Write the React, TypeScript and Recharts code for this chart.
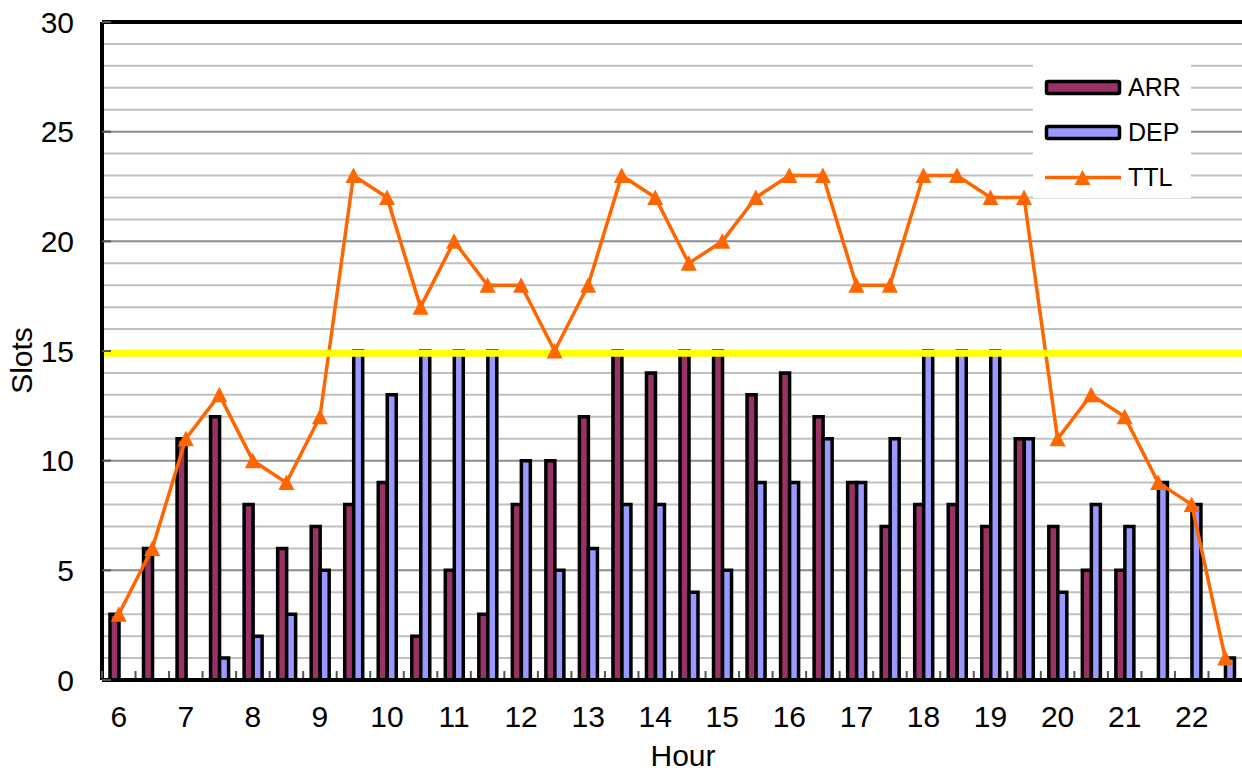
import React from 'react';
import {
  ComposedChart,
  Bar,
  Line,
  XAxis,
  YAxis,
  CartesianGrid,
  ReferenceLine,
  Legend,
} from 'recharts';

// ---- data ----
const HOURS = [
  '6:00', '6:30', '7:00', '7:30', '8:00', '8:30', '9:00', '9:30',
  '10:00', '10:30', '11:00', '11:30', '12:00', '12:30', '13:00', '13:30',
  '14:00', '14:30', '15:00', '15:30', '16:00', '16:30', '17:00', '17:30',
  '18:00', '18:30', '19:00', '19:30', '20:00', '20:30', '21:00', '21:30',
  '22:00', '22:30',
];
const ARR = [3, 6, 11, 12, 8, 6, 7, 8, 9, 2, 5, 3, 8, 10, 12, 15, 14, 15, 15, 13, 14, 12, 9, 7, 8, 8, 7, 11, 7, 5, 5, 0, 0, 0];
const DEP = [0, 0, 0, 1, 2, 3, 5, 15, 13, 15, 15, 15, 10, 5, 6, 8, 8, 4, 5, 9, 9, 11, 9, 11, 15, 15, 15, 11, 4, 8, 7, 9, 8, 1];
const TTL = [3, 6, 11, 13, 10, 9, 12, 23, 22, 17, 20, 18, 18, 15, 18, 23, 22, 19, 20, 22, 23, 23, 18, 18, 23, 23, 22, 22, 11, 13, 12, 9, 8, 1];

const Y_TICKS = [0, 5, 10, 15, 20, 25, 30];
const MINOR_GRID = [1, 2, 3, 4, 6, 7, 8, 9, 11, 12, 13, 14, 16, 17, 18, 19, 21, 22, 23, 24, 26, 27, 28, 29];
const MAJOR_GRID = [5, 10, 15, 20, 25];
const CAPACITY = 14.9;

const SERIES = [
  { name: 'ARR', color: '#993366', kind: 'bar' },
  { name: 'DEP', color: '#9999FF', kind: 'bar' },
  { name: 'TTL', color: '#FF6600', kind: 'line' },
];

const data = HOURS.map((h, i) => ({ hour: h, ARR: ARR[i], DEP: DEP[i], TTL: TTL[i] }));

// ---- layout ----
const W = 1242;
const H = 773;
const YAXIS_W = 102;
const XAXIS_H = 93;
const MARGIN = { top: 22, right: 0, bottom: 0, left: 0 };
const PLOT_W = W - YAXIS_W - MARGIN.right - MARGIN.left;
const FONT = '"Liberation Sans", Arial, Helvetica, sans-serif';

const XTick = (props: any) => {
  const { x, y, payload } = props;
  const band = PLOT_W / HOURS.length;
  const v = String(payload.value);
  const label = v.endsWith(':00') ? v.split(':')[0] : '';
  const bx = x - band / 2;
  return (
    <g>
      <line x1={bx} x2={bx} y1={y - 2} y2={y - 9} stroke="#555" strokeWidth={2} />
      {label && (
        <text x={x} y={y + 47} textAnchor="middle" fontSize={30} fontFamily={FONT} fill="#000">
          {label}
        </text>
      )}
    </g>
  );
};

const YTick = (props: any) => {
  const { x, y, payload } = props;
  return (
    <g>
      <line x1={x} x2={x + 9} y1={y} y2={y} stroke="#555" strokeWidth={2} />
      <text x={x - 28} y={y} dy="0.355em" textAnchor="end" fontSize={30} fontFamily={FONT} fill="#000">
        {payload.value}
      </text>
    </g>
  );
};

const TriangleDot = (props: any) => {
  const { cx, cy, index } = props;
  if (cx == null || cy == null) return <g key={`d-${index}`} />;
  return (
    <polygon
      key={`d-${index}`}
      points={`${cx},${cy - 8} ${cx - 8},${cy + 7.5} ${cx + 8},${cy + 7.5}`}
      fill="#FF6600"
    />
  );
};

const LegendBox = () => {
  const rowY = [31.5, 76.5, 121.5];
  return (
    <svg width={158} height={142} style={{ display: 'block', background: '#fff' }}>
      <rect x={0} y={0} width={158} height={142} fill="#fff" />
      {SERIES.map((s, i) => (
        <g key={s.name}>
          {s.kind === 'bar' ? (
            <rect x={13.5} y={rowY[i] - 6} width={73} height={12} fill={s.color} stroke="#000" strokeWidth={3.5} rx={1.5} />
          ) : (
            <g>
              <line x1={12} x2={88} y1={rowY[i]} y2={rowY[i]} stroke={s.color} strokeWidth={3.5} />
              <polygon
                points={`${49.5},${rowY[i] - 7.5} ${41.5},${rowY[i] + 7.5} ${57.5},${rowY[i] + 7.5}`}
                fill={s.color}
              />
            </g>
          )}
          <text x={95} y={rowY[i]} dy="0.355em" fontSize={25} fontFamily={FONT} fill="#000">
            {s.name}
          </text>
        </g>
      ))}
    </svg>
  );
};

const HourLabel = (props: any) => {
  const vb = props.viewBox || { x: YAXIS_W, y: 680, width: PLOT_W, height: XAXIS_H };
  return (
    <text x={vb.x + vb.width / 2 + 11} y={766} textAnchor="middle" fontSize={30} fontFamily={FONT} fill="#000">
      Hour
    </text>
  );
};

const SlotsLabel = (props: any) => {
  const vb = props.viewBox || { x: 0, y: 22, width: YAXIS_W, height: 658 };
  const cx = 21.5;
  const cy = vb.y + vb.height / 2 + 9.5;
  return (
    <text
      x={cx}
      y={cy}
      transform={`rotate(-90, ${cx}, ${cy})`}
      textAnchor="middle"
      dy="0.355em"
      fontSize={30}
      fontFamily={FONT}
      fill="#000"
    >
      Slots
    </text>
  );
};

export default function App() {
  return (
    <div style={{ position: 'absolute', left: 0, top: 0, width: W, height: H, background: '#fff', overflow: 'hidden' }}>
      <ComposedChart width={W} height={H} data={data} margin={MARGIN} barGap={0}>
        <CartesianGrid vertical={false} horizontalValues={MINOR_GRID} stroke="#c0c0c0" strokeWidth={2} />
        <CartesianGrid vertical={false} horizontalValues={MAJOR_GRID} stroke="#8c8c8c" strokeWidth={2} />
        <XAxis
          dataKey="hour"
          type="category"
          interval={0}
          height={XAXIS_H}
          tickSize={0}
          tickMargin={0}
          tickLine={false}
          axisLine={{ stroke: '#000', strokeWidth: 4 }}
          tick={<XTick />}
          label={{ content: <HourLabel /> }}
        />
        <YAxis
          type="number"
          domain={[0, 30]}
          ticks={Y_TICKS}
          interval={0}
          width={YAXIS_W}
          tickSize={0}
          tickMargin={0}
          tickLine={false}
          axisLine={{ stroke: '#000', strokeWidth: 4 }}
          tick={<YTick />}
          label={{ content: <SlotsLabel /> }}
        />
        <ReferenceLine y={30} stroke="#000" strokeWidth={4} />
        <Bar dataKey="ARR" name="ARR" fill="#993366" stroke="#000" strokeWidth={3.5} barSize={9} isAnimationActive={false} legendType="none" />
        <Bar dataKey="DEP" name="DEP" fill="#9999FF" stroke="#000" strokeWidth={3.5} barSize={9} isAnimationActive={false} legendType="none" />
        <Line
          dataKey="TTL"
          name="TTL"
          type="linear"
          stroke="#FF6600"
          strokeWidth={3.5}
          dot={TriangleDot}
          activeDot={false}
          isAnimationActive={false}
          legendType="none"
        />
        <ReferenceLine y={CAPACITY} stroke="#FFFF00" strokeWidth={7} zIndex={450} />
        <Legend
          layout="vertical"
          align="center"
          verticalAlign="middle"
          wrapperStyle={{ left: 1033, top: 56, width: 158, height: 142 }}
          content={() => <LegendBox />}
        />
      </ComposedChart>
    </div>
  );
}
